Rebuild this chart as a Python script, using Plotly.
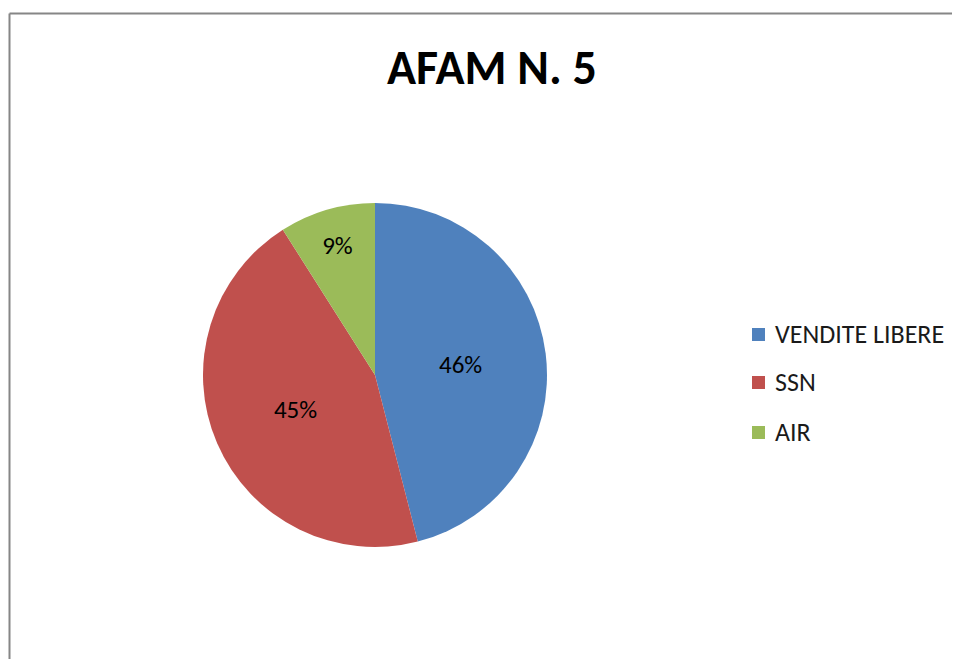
import plotly.graph_objects as go

categories = ["VENDITE LIBERE", "SSN", "AIR"]
values = [46, 45, 9]
colors = ["#4F81BD", "#C0504D", "#9BBB59"]
title_text = "AFAM N. 5"

FONT = "Carlito, Lato, 'Open Sans', sans-serif"
W, H = 952, 651
OX, OY = 8, 8  # page body margin offset

def px(x):
    return (x - OX) / W

def py(y):
    return 1 - (y - OY) / H

fig = go.Figure()
fig.add_trace(go.Pie(
    labels=categories,
    values=values,
    marker=dict(colors=colors, line=dict(width=0)),
    sort=False,
    direction="clockwise",
    rotation=0,
    textinfo="percent",
    texttemplate="%{percent:.0%}",
    textposition="inside",
    insidetextorientation="horizontal",
    textfont=dict(family=FONT, size=25, color="#000000"),
    showlegend=False,
    domain=dict(x=[px(375 - 172), px(375 + 172)], y=[py(547), py(203)]),
    hoverinfo="label+percent",
))

shapes = [
    dict(type="line", xref="paper", yref="paper",
         x0=px(9.5), x1=1.0, y0=py(13.5), y1=py(13.5),
         line=dict(color="#868686", width=2)),
    dict(type="line", xref="paper", yref="paper",
         x0=px(9.5), x1=px(9.5), y0=0.0, y1=py(13.5),
         line=dict(color="#868686", width=2)),
]
annotations = [dict(text="<b>" + title_text + "</b>", xref="paper", yref="paper",
                    x=px(492), y=py(67), xanchor="center", yanchor="middle",
                    showarrow=False, font=dict(family=FONT, size=48, color="#000000"))]

leg_y = [334, 382, 432]
for cat, col, yy in zip(categories, colors, leg_y):
    shapes.append(dict(type="rect", xref="paper", yref="paper",
                       x0=px(752), x1=px(765), y0=py(yy + 7), y1=py(yy - 6),
                       line=dict(width=0), fillcolor=col))
    annotations.append(dict(text=cat, xref="paper", yref="paper",
                            x=px(773), y=py(yy), xanchor="left", yanchor="middle",
                            showarrow=False, font=dict(family=FONT, size=26, color="#1a1a1a")))

fig.update_layout(
    width=W, height=H,
    margin=dict(l=0, r=0, t=0, b=0),
    paper_bgcolor="white",
    plot_bgcolor="white",
    shapes=shapes,
    annotations=annotations,
)

fig.write_html("out.html")
